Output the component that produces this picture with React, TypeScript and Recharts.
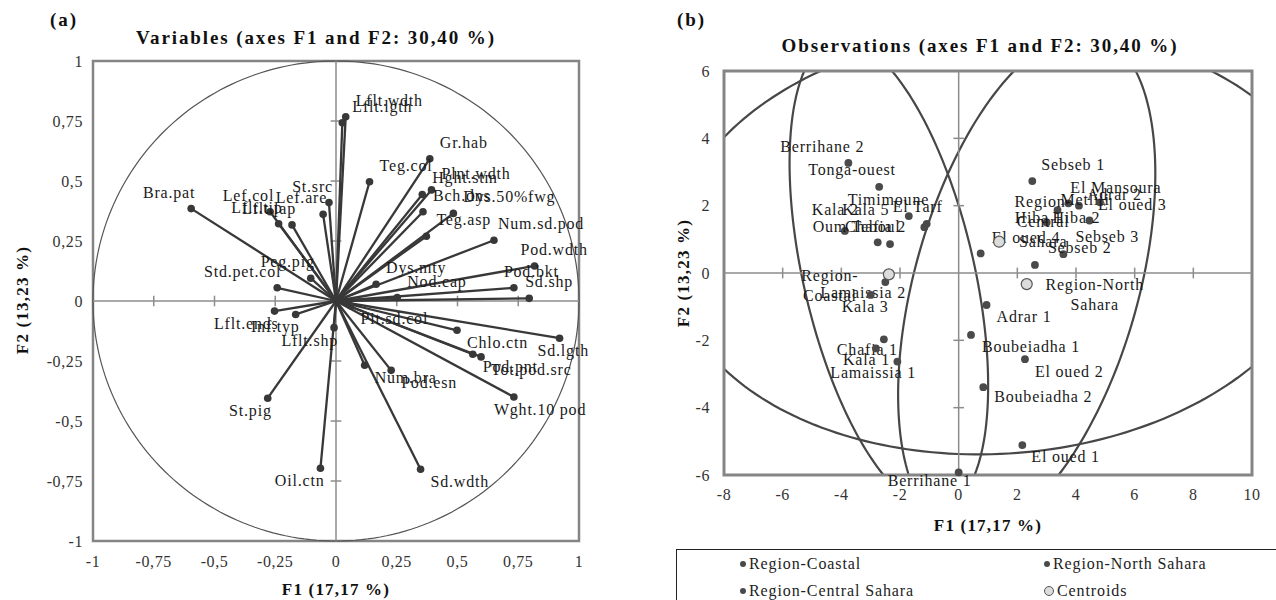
import React from "react";
import {
  ScatterChart,
  Scatter,
  XAxis,
  YAxis,
  ReferenceLine,
  ReferenceArea,
} from "recharts";

const FONT = '"Liberation Serif", "Times New Roman", serif';
const INK = "#383838";
const FRAME = "#858585";

// ---------- (a) variables: loadings on F1 / F2 ----------
const VAR_NAMES = [
  "Lflt.wdth", "Lflt.lgth", "Gr.hab", "Teg.col", "Plnt.wdth", "Hght.stm",
  "Dys.50%fwg", "Bch.dns", "Teg.asp", "Num.sd.pod", "Pod.wdth", "Pod.bkt",
  "Sd.shp", "Nod.cap", "Dys.mty", "Bra.pat", "Lef.col", "Lflt.tip",
  "Lflt.lap", "Lef.are", "St.src", "Peg.pig", "Std.pet.col", "Lflt.ends",
  "Inf.typ", "Lflt.shp", "St.pig", "Oil.ctn", "Sd.wdth", "Num.bra",
  "Pod.esn", "Pit.sd.col", "Chlo.ctn", "Pod.pnt", "Tot.pod.src", "Sd.lgth",
  "Wght.10 pod",
];
const VAR_F1 = [
  0.04, 0.026, 0.386, 0.138, 0.393, 0.355,
  0.483, 0.358, 0.372, 0.65, 0.817, 0.732,
  0.795, 0.252, 0.165, -0.596, -0.271, -0.236,
  -0.181, -0.053, -0.029, -0.104, -0.242, -0.253,
  -0.166, -0.008, -0.281, -0.064, 0.348, 0.118,
  0.227, 0.06, 0.498, 0.563, 0.597, 0.92,
  0.732,
];
const VAR_F2 = [
  0.768, 0.743, 0.593, 0.497, 0.463, 0.444,
  0.365, 0.372, 0.27, 0.253, 0.146, 0.055,
  0.011, 0.014, 0.07, 0.385, 0.372, 0.322,
  0.317, 0.361, 0.41, 0.095, 0.055, -0.042,
  -0.056, -0.111, -0.405, -0.697, -0.701, -0.268,
  -0.289, -0.02, -0.122, -0.222, -0.233, -0.155,
  -0.4,
];
const VAR_TICKS = [-1, -0.75, -0.5, -0.25, 0, 0.25, 0.5, 0.75, 1];

// ---------- (b) observations: scores on F1 / F2 ----------
const OBS_NAMES = [
  "Berrihane 2", "Tonga-ouest", "Timimoune", "Kala 2", "Kala 5", "El Tarf",
  "Oum Teboul", "Chafia 2", "Lamaissia 2", "Kala 3", "Chafia 1", "Kala 1",
  "Lamaissia 1", "Berrihane 1", "Sebseb 1", "El Mansoura", "Adrar 2", "Metlili",
  "El oued 3", "Hiba 1", "Hiba 2", "El oued 4", "Sebseb 3", "Sebseb 2",
  "Adrar 1", "Boubeiadha 1", "El oued 2", "Boubeiadha 2", "El oued 1",
];
const OBS_F1 = [
  -3.76, -2.71, -1.7, -3.88, -1.17, -1.09,
  -2.76, -2.34, -2.5, -3.0, -2.55, -2.82,
  -2.09, 0.0, 2.51, 3.74, 4.1, 3.37,
  4.82, 3.0, 4.46, 0.75, 3.57, 2.6,
  0.95, 0.42, 2.26, 0.84, 2.17,
];
const OBS_F2 = [
  3.27, 2.56, 1.69, 1.25, 1.36, 1.46,
  0.91, 0.86, -0.27, -0.65, -1.97, -2.24,
  -2.63, -5.92, 2.73, 2.07, 2.0, 1.87,
  2.1, 1.5, 1.56, 0.58, 0.56, 0.24,
  -0.95, -1.84, -2.56, -3.39, -5.11,
];
const X_TICKS = [-8, -6, -4, -2, 0, 2, 4, 6, 8, 10];
const Y_TICKS = [-6, -4, -2, 0, 2, 4, 6];

const CENTROID_NAMES = ["Region-Coastal", "Region-Central Sahara", "Region-North Sahara"];
const CENTROID_F1 = [-2.38, 1.38, 2.32];
const CENTROID_F2 = [-0.04, 0.93, -0.33];

// confidence ellipses around each centroid: semi-axes and major-axis angle
const ELLIPSE_A = [7.2, 11.2, 7.78];
const ELLIPSE_B = [2.89, 6.3, 3.77];
const ELLIPSE_ANGLE = [105.5, 3, 70.8];

const LEGEND_ITEMS = ["Region-Coastal", "Region-North Sahara", "Region-Central Sahara", "Centroids"];

// label placement for the observation labels: [dx to text start, dy to baseline] in px
const OBS_LABEL_AT: Record<string, [number, number]> = {
  "Berrihane 2": [-68, -11],
  "Tonga-ouest": [-71, -12],
  Timimoune: [-61, -11],
  "Kala 2": [-33, -16],
  "Kala 5": [-82, -12],
  "El Tarf": [-34, -12],
  "Oum Teboul": [-65, -10],
  "Chafia 2": [-45, -12],
  "Lamaissia 2": [-65, 16],
  "Kala 3": [-29, 17],
  "Chafia 1": [-47, 16],
  "Kala 1": [-33, 17],
  "Lamaissia 1": [-67, 16],
  "Berrihane 1": [-71, 14],
  "Sebseb 1": [9, -11],
  "El Mansoura": [2, -10],
  "Adrar 2": [8, -6],
  Metlili: [3, -5],
  "El oued 3": [-2, 8],
  "Hiba 1": [-32, 0],
  "Hiba 2": [-37, 3],
  "El oued 4": [11, -10],
  "Sebseb 3": [12, -12],
  "Sebseb 2": [13, -12],
  "Adrar 1": [10, 17],
  "Boubeiadha 1": [11, 17],
  "El oued 2": [10, 18],
  "Boubeiadha 2": [11, 15],
  "El oued 1": [9, 17],
};

const comma = (v: number) => String(v).replace(".", ",");

const tickStyle = { fontFamily: FONT, fontSize: 16, fill: "#333", letterSpacing: 0.6 };
const labelStyle: React.CSSProperties = { fontFamily: FONT, fontSize: 16, letterSpacing: 0.8 };

// the area spans 2 units each way around the centre, so px/unit = size / 2
const ellipseShape = (a: number, b: number, deg: number, stroke: string, sw: number) =>
  (props: any) => {
    const { x, y, width, height, clipPath } = props;
    const sx = width / 2;
    const sy = height / 2;
    const cx = x + sx;
    const cy = y + sy;
    const phi = (deg * Math.PI) / 180;
    let d = "";
    for (let i = 0; i <= 240; i++) {
      const t = (i / 240) * Math.PI * 2;
      const u = a * Math.cos(t) * Math.cos(phi) - b * Math.sin(t) * Math.sin(phi);
      const v = a * Math.cos(t) * Math.sin(phi) + b * Math.sin(t) * Math.cos(phi);
      d += (i ? "L" : "M") + (cx + u * sx).toFixed(2) + "," + (cy - v * sy).toFixed(2);
    }
    return <path d={d + "Z"} fill="none" stroke={stroke} strokeWidth={sw} clipPath={clipPath} />;
  };

const VAR_NUDGE: Record<string, number> = {
  "Sd.lgth": -22,
  "Wght.10 pod": -20,
  "Pod.wdth": -14,
  "Pod.bkt": -10,
  "Sd.shp": -4,
  "Num.sd.pod": 4,
};

const varShape = (props: any) => {
  const { cx, cy, payload } = props;
  const right = payload.x >= 0;
  const up = payload.y >= 0;
  const dx = VAR_NUDGE[payload.name] ?? (right ? 10 : 4);
  return (
    <g>
      <circle cx={cx} cy={cy} r={3.8} fill={INK} />
      <text
        x={cx + dx}
        y={cy + (up ? -11 : 18)}
        textAnchor={right ? "start" : "end"}
        fill="#1a1a1a"
        style={labelStyle}
      >
        {payload.name}
      </text>
    </g>
  );
};

const obsShape = (props: any) => {
  const { cx, cy, payload } = props;
  const [dx, dy] = OBS_LABEL_AT[payload.name] ?? [10, 17];
  return (
    <g>
      <circle cx={cx} cy={cy} r={3.9} fill="#4a4a4a" />
      <text x={cx + dx} y={cy + dy} textAnchor="start" fill="#1a1a1a" style={labelStyle}>
        {payload.name}
      </text>
    </g>
  );
};

const CENTROID_LINES: Record<string, { lines: string[]; dx: number; dy: number }> = {
  "Region-Coastal": { lines: ["Region-", "Coastal"], dx: -59, dy: 7 },
  "Region-Central Sahara": { lines: ["Region-", "Central", "Sahara"], dx: 44, dy: -35 },
  "Region-North Sahara": { lines: ["Region-North", "Sahara"], dx: 68, dy: 6 },
};

const centroidShape = (props: any) => {
  const { cx, cy, payload } = props;
  const info = CENTROID_LINES[payload.name];
  return (
    <g>
      <circle cx={cx} cy={cy} r={5.5} fill="#dcdcdc" stroke="#555" strokeWidth={1.2} />
      {info.lines.map((ln, k) => (
        <text
          key={k}
          x={cx + info.dx}
          y={cy + info.dy + k * 20}
          textAnchor="middle"
          fill="#1a1a1a"
          style={labelStyle}
        >
          {ln}
        </text>
      ))}
    </g>
  );
};

const varData = VAR_NAMES.map((name, i) => ({ name, x: VAR_F1[i], y: VAR_F2[i] }));
const obsData = OBS_NAMES.map((name, i) => ({ name, x: OBS_F1[i], y: OBS_F2[i] }));
const centroidData = CENTROID_NAMES.map((name, i) => ({
  name,
  x: CENTROID_F1[i],
  y: CENTROID_F2[i],
}));

function VariablesChart() {
  const inner = VAR_TICKS.filter((t) => t !== 0 && Math.abs(t) !== 1);
  return (
    <ScatterChart width={620} height={600} margin={{ top: 61, right: 41, bottom: 0, left: 0 }}>
      <XAxis
        type="number"
        dataKey="x"
        domain={[-1, 1]}
        ticks={VAR_TICKS}
        interval={0}
        tickFormatter={comma}
        axisLine={false}
        tickLine={false}
        tickMargin={9}
        height={59}
        tick={tickStyle}
      />
      <YAxis
        type="number"
        dataKey="y"
        domain={[-1, 1]}
        ticks={VAR_TICKS}
        interval={0}
        tickFormatter={comma}
        axisLine={false}
        tickLine={false}
        tickMargin={4}
        width={93}
        tick={tickStyle}
      />
      <ReferenceArea x1={-1} x2={1} y1={-1} y2={1} fill="none" stroke={FRAME} strokeWidth={2.5} ifOverflow="visible" />
      <ReferenceLine x={0} stroke="#8c8c8c" strokeWidth={1.5} />
      <ReferenceLine y={0} stroke="#8c8c8c" strokeWidth={1.5} />
      {inner.map((t) => (
        <ReferenceLine key={"vx" + t} segment={[{ x: t, y: -0.022 }, { x: t, y: 0.022 }]} stroke="#8c8c8c" strokeWidth={1.5} ifOverflow="visible" />
      ))}
      {inner.map((t) => (
        <ReferenceLine key={"vy" + t} segment={[{ x: -0.022, y: t }, { x: 0.022, y: t }]} stroke="#8c8c8c" strokeWidth={1.5} ifOverflow="visible" />
      ))}
      <ReferenceArea x1={-1} x2={1} y1={-1} y2={1} ifOverflow="visible" shape={ellipseShape(1, 1, 0, "#555", 1.2)} />
      {varData.map((d) => (
        <ReferenceLine
          key={d.name}
          segment={[{ x: 0, y: 0 }, { x: d.x, y: d.y }]}
          stroke={INK}
          strokeWidth={2.3}
          ifOverflow="visible"
        />
      ))}
      <Scatter data={varData} shape={varShape} isAnimationActive={false} />
    </ScatterChart>
  );
}

function ObservationsChart() {
  return (
    <ScatterChart width={656} height={600} margin={{ top: 71, right: 24, bottom: 85, left: 0 }}>
      <XAxis
        type="number"
        dataKey="x"
        domain={[-8, 10]}
        ticks={X_TICKS}
        interval={0}
        axisLine={false}
        tickLine={false}
        tickMargin={8}
        height={40}
        tick={tickStyle}
      />
      <YAxis
        type="number"
        dataKey="y"
        domain={[-6, 6]}
        ticks={Y_TICKS}
        interval={0}
        axisLine={false}
        tickLine={false}
        tickMargin={8}
        width={104}
        tick={tickStyle}
      />
      <ReferenceLine x={0} stroke="#8c8c8c" strokeWidth={1.5} />
      <ReferenceLine y={0} stroke="#8c8c8c" strokeWidth={1.5} />
      {X_TICKS.filter((t) => t !== 0 && t !== -8 && t !== 10).map((t) => (
        <ReferenceLine key={"ox" + t} segment={[{ x: t, y: -0.16 }, { x: t, y: 0.16 }]} stroke="#8c8c8c" strokeWidth={1.5} ifOverflow="visible" />
      ))}
      {Y_TICKS.filter((t) => t !== 0 && Math.abs(t) !== 6).map((t) => (
        <ReferenceLine key={"oy" + t} segment={[{ x: -0.18, y: t }, { x: 0.18, y: t }]} stroke="#8c8c8c" strokeWidth={1.5} ifOverflow="visible" />
      ))}
      {CENTROID_NAMES.map((name, i) => (
        <ReferenceArea
          key={"el" + name}
          x1={CENTROID_F1[i] - 1}
          x2={CENTROID_F1[i] + 1}
          y1={CENTROID_F2[i] - 1}
          y2={CENTROID_F2[i] + 1}
          ifOverflow="hidden"
          shape={ellipseShape(ELLIPSE_A[i], ELLIPSE_B[i], ELLIPSE_ANGLE[i], "#474747", 2.2)}
        />
      ))}
      <ReferenceArea x1={-8} x2={10} y1={-6} y2={6} fill="none" stroke={FRAME} strokeWidth={3} ifOverflow="visible" />
      <Scatter data={obsData} shape={obsShape} isAnimationActive={false} />
      <Scatter data={centroidData} shape={centroidShape} isAnimationActive={false} />
    </ScatterChart>
  );
}

const textBase: React.CSSProperties = {
  position: "absolute",
  fontFamily: FONT,
  color: "#111",
  whiteSpace: "nowrap",
  lineHeight: 1,
};

const bold: React.CSSProperties = { ...textBase, fontSize: 17, fontWeight: 700, letterSpacing: 1.2 };
const titleStyle: React.CSSProperties = { ...textBase, fontSize: 19, fontWeight: 700, letterSpacing: 1.9 };

export default function App() {
  return (
    <div style={{ position: "absolute", left: 0, top: 0, width: 1276, height: 600, overflow: "hidden", background: "#fff" }}>
      <div style={{ position: "absolute", left: 0, top: 0 }}>
        <VariablesChart />
      </div>
      <div style={{ position: "absolute", left: 620, top: 0 }}>
        <ObservationsChart />
      </div>

      <div style={{ ...titleStyle, left: 50, top: 10 }}>(a)</div>
      <div style={{ ...titleStyle, left: 677, top: 10 }}>(b)</div>
      <div style={{ ...titleStyle, left: 316, top: 28, transform: "translateX(-50%)" }}>
        Variables (axes F1 and F2: 30,40 %)
      </div>
      <div style={{ ...titleStyle, left: 980, top: 36, transform: "translateX(-50%)" }}>
        Observations (axes F1 and F2: 30,40 %)
      </div>
      <div style={{ ...bold, left: 336, top: 581, transform: "translateX(-50%)" }}>F1 (17,17 %)</div>
      <div style={{ ...bold, left: 988, top: 517, transform: "translateX(-50%)" }}>F1 (17,17 %)</div>
      <div style={{ ...bold, left: 22, top: 300, transform: "translate(-50%,-50%) rotate(-90deg)" }}>
        F2 (13,23 %)
      </div>
      <div style={{ ...bold, left: 683, top: 273, transform: "translate(-50%,-50%) rotate(-90deg)" }}>
        F2 (13,23 %)
      </div>

      <div
        style={{
          position: "absolute",
          left: 676,
          top: 549,
          width: 620,
          height: 70,
          border: "1px solid #222",
          boxSizing: "border-box",
        }}
      >
        {LEGEND_ITEMS.map((item, i) => (
          <div
            key={item}
            style={{
              ...textBase,
              left: i % 2 === 0 ? 63 : 367,
              top: i < 2 ? 6 : 33,
              fontSize: 16,
              letterSpacing: 0.9,
              color: "#222",
              display: "flex",
              alignItems: "center",
            }}
          >
            <span
              style={{
                display: "inline-block",
                width: i === 3 ? 8 : 6,
                height: i === 3 ? 8 : 6,
                borderRadius: "50%",
                background: i === 3 ? "#dcdcdc" : "#4a4a4a",
                border: i === 3 ? "1px solid #555" : "none",
                marginRight: 3,
              }}
            />
            {item}
          </div>
        ))}
      </div>
    </div>
  );
}
